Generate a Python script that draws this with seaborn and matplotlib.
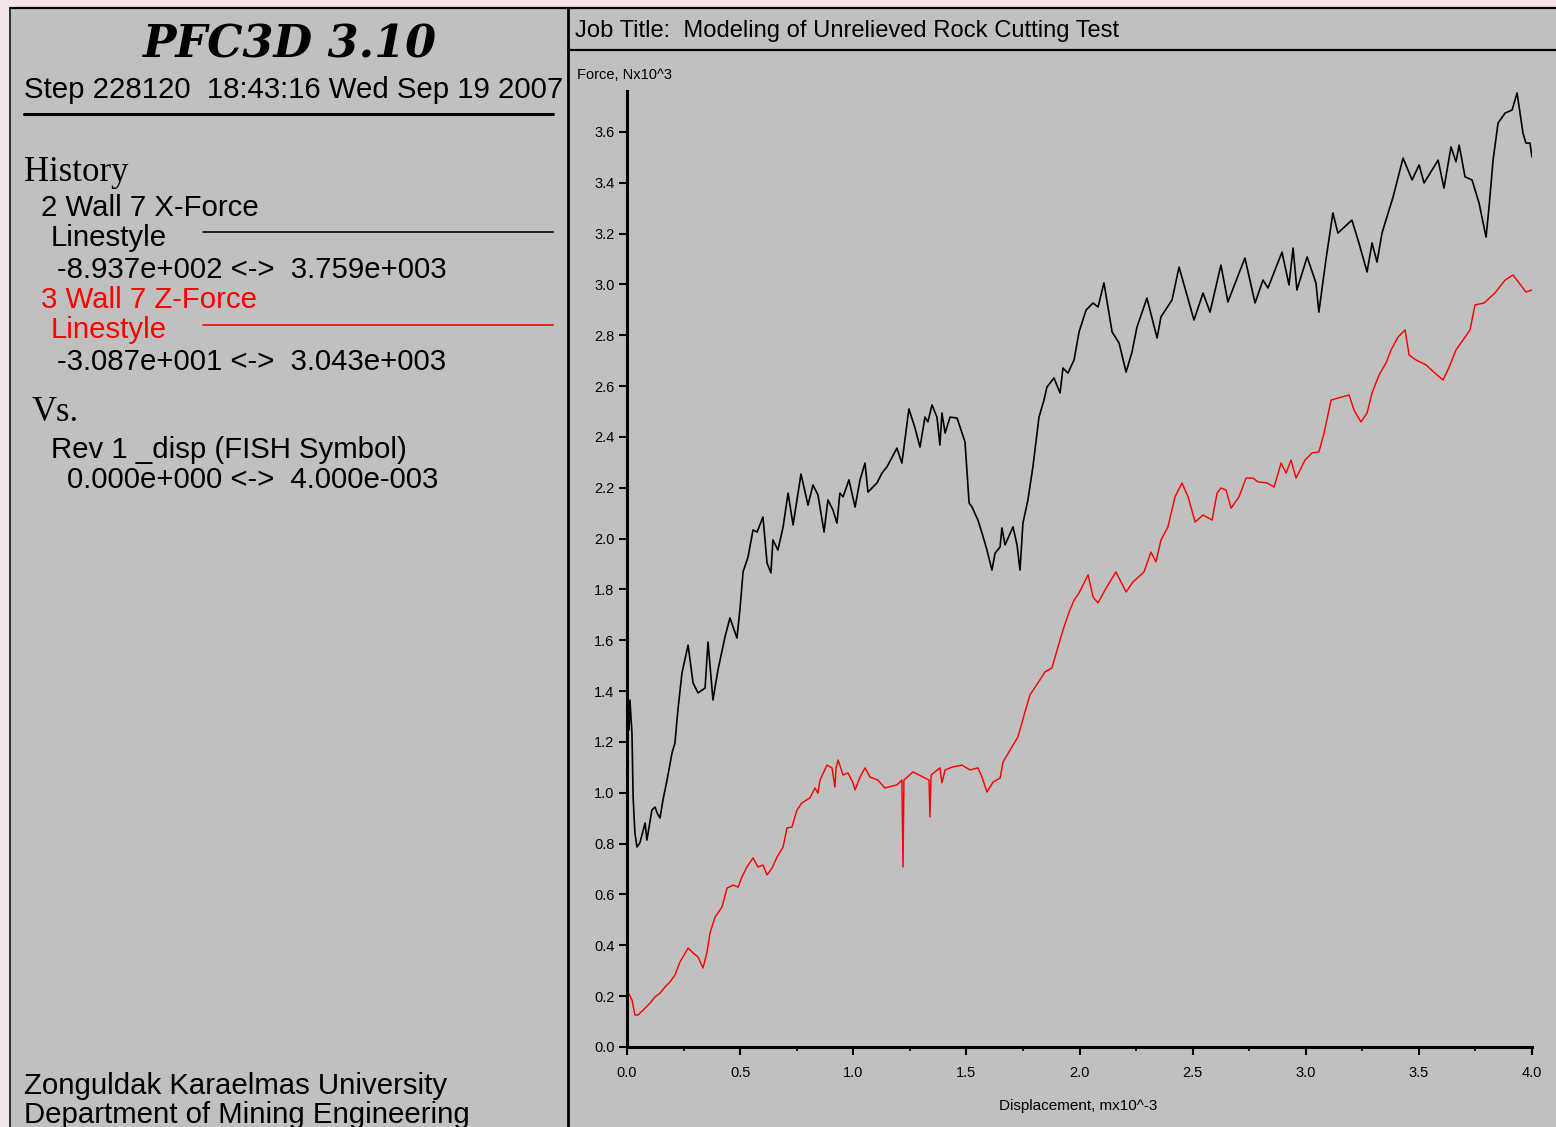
import matplotlib
matplotlib.use("Agg")
import matplotlib.pyplot as plt
import pandas as pd
import seaborn as sns
from matplotlib.patches import Rectangle
from matplotlib.ticker import MultipleLocator, FormatStrFormatter

# History 2: Wall 7 X-force (N x 10^3) against displacement (m x 10^-3)
disp_x = [0.000, 0.004, 0.009, 0.013, 0.022, 0.027, 0.035, 0.044, 0.057, 0.080,
          0.088, 0.110, 0.124, 0.133, 0.146, 0.159, 0.177, 0.199, 0.212, 0.225,
          0.243, 0.270, 0.292, 0.314, 0.345, 0.358, 0.380, 0.402, 0.433, 0.455,
          0.486, 0.499, 0.513, 0.535, 0.557, 0.575, 0.601, 0.619, 0.636, 0.645,
          0.667, 0.690, 0.712, 0.734, 0.769, 0.800, 0.822, 0.844, 0.871, 0.888,
          0.910, 0.928, 0.941, 0.955, 0.981, 1.008, 1.030, 1.052, 1.065, 1.105,
          1.127, 1.149, 1.193, 1.215, 1.246, 1.273, 1.295, 1.317, 1.330, 1.348,
          1.370, 1.383, 1.392, 1.406, 1.428, 1.459, 1.472, 1.494, 1.503, 1.512,
          1.525, 1.551, 1.569, 1.591, 1.613, 1.627, 1.649, 1.657, 1.671, 1.706,
          1.724, 1.737, 1.750, 1.772, 1.794, 1.821, 1.843, 1.856, 1.887, 1.914,
          1.927, 1.949, 1.976, 1.998, 2.029, 2.060, 2.082, 2.108, 2.144, 2.175,
          2.206, 2.232, 2.254, 2.298, 2.343, 2.360, 2.409, 2.440, 2.506, 2.546,
          2.577, 2.625, 2.656, 2.731, 2.776, 2.811, 2.833, 2.895, 2.926, 2.944,
          2.961, 3.006, 3.045, 3.058, 3.089, 3.120, 3.142, 3.204, 3.235, 3.271,
          3.293, 3.315, 3.337, 3.386, 3.430, 3.470, 3.501, 3.523, 3.585, 3.611,
          3.642, 3.664, 3.678, 3.704, 3.735, 3.766, 3.797, 3.810, 3.828, 3.850,
          3.881, 3.912, 3.934, 3.943, 3.960, 3.973, 3.991, 4.000]
x_force = [1.286, 1.385, 1.247, 1.365, 1.235, 0.983, 0.842, 0.787, 0.803, 0.881,
           0.814, 0.932, 0.944, 0.921, 0.901, 0.972, 1.050, 1.157, 1.196, 1.326,
           1.471, 1.581, 1.432, 1.393, 1.412, 1.593, 1.365, 1.483, 1.613, 1.688,
           1.609, 1.719, 1.869, 1.928, 2.034, 2.026, 2.085, 1.904, 1.865, 1.995,
           1.955, 2.046, 2.179, 2.054, 2.254, 2.132, 2.211, 2.172, 2.026, 2.152,
           2.113, 2.061, 2.179, 2.164, 2.231, 2.124, 2.231, 2.297, 2.183, 2.219,
           2.258, 2.282, 2.356, 2.297, 2.510, 2.435, 2.360, 2.478, 2.459, 2.526,
           2.478, 2.368, 2.494, 2.415, 2.478, 2.474, 2.439, 2.380, 2.258, 2.140,
           2.124, 2.073, 2.022, 1.955, 1.876, 1.943, 1.967, 2.042, 1.975, 2.046,
           1.975, 1.876, 2.061, 2.152, 2.282, 2.478, 2.545, 2.596, 2.632, 2.573,
           2.671, 2.651, 2.703, 2.813, 2.899, 2.927, 2.911, 3.006, 2.813, 2.769,
           2.655, 2.734, 2.832, 2.946, 2.789, 2.872, 2.939, 3.068, 2.860, 2.966,
           2.891, 3.076, 2.931, 3.104, 2.927, 3.017, 2.986, 3.127, 2.998, 3.143,
           2.978, 3.108, 3.006, 2.891, 3.096, 3.281, 3.202, 3.253, 3.163, 3.049,
           3.163, 3.088, 3.202, 3.344, 3.497, 3.411, 3.470, 3.399, 3.489, 3.379,
           3.541, 3.482, 3.548, 3.423, 3.411, 3.320, 3.186, 3.304, 3.489, 3.635,
           3.674, 3.686, 3.753, 3.698, 3.596, 3.556, 3.556, 3.501]

# History 3: Wall 7 Z-force (N x 10^3) against displacement (m x 10^-3)
disp_z = [0.000, 0.004, 0.022, 0.035, 0.049, 0.080, 0.102, 0.124, 0.146, 0.168,
          0.190, 0.212, 0.234, 0.270, 0.292, 0.314, 0.336, 0.354, 0.367, 0.389,
          0.420, 0.442, 0.469, 0.491, 0.508, 0.530, 0.557, 0.579, 0.601, 0.619,
          0.641, 0.663, 0.690, 0.707, 0.729, 0.751, 0.773, 0.809, 0.831, 0.844,
          0.853, 0.884, 0.906, 0.919, 0.924, 0.933, 0.955, 0.977, 0.999, 1.008,
          1.030, 1.052, 1.074, 1.109, 1.140, 1.193, 1.215, 1.220, 1.224, 1.264,
          1.308, 1.335, 1.339, 1.344, 1.383, 1.392, 1.406, 1.436, 1.481, 1.516,
          1.551, 1.569, 1.591, 1.618, 1.649, 1.662, 1.693, 1.728, 1.759, 1.781,
          1.825, 1.847, 1.878, 1.901, 1.927, 1.954, 1.976, 1.998, 2.038, 2.060,
          2.082, 2.113, 2.161, 2.206, 2.236, 2.285, 2.316, 2.338, 2.360, 2.391,
          2.422, 2.453, 2.480, 2.511, 2.546, 2.586, 2.608, 2.625, 2.648, 2.670,
          2.705, 2.736, 2.767, 2.789, 2.829, 2.860, 2.891, 2.913, 2.935, 2.957,
          2.997, 3.028, 3.058, 3.081, 3.112, 3.143, 3.192, 3.213, 3.244, 3.271,
          3.293, 3.324, 3.355, 3.377, 3.408, 3.439, 3.457, 3.487, 3.532, 3.571,
          3.607, 3.634, 3.664, 3.695, 3.726, 3.748, 3.788, 3.836, 3.881, 3.916,
          3.943, 3.973, 4.000]
z_force = [0.000, 0.216, 0.185, 0.126, 0.126, 0.153, 0.173, 0.197, 0.212, 0.236,
           0.256, 0.283, 0.334, 0.389, 0.370, 0.354, 0.311, 0.374, 0.448, 0.511,
           0.551, 0.625, 0.637, 0.629, 0.669, 0.708, 0.744, 0.708, 0.716, 0.677,
           0.704, 0.747, 0.787, 0.862, 0.865, 0.932, 0.960, 0.980, 1.019, 0.999,
           1.050, 1.109, 1.098, 1.023, 1.098, 1.129, 1.070, 1.078, 1.039, 1.011,
           1.062, 1.098, 1.062, 1.050, 1.019, 1.031, 1.050, 0.708, 1.050, 1.082,
           1.062, 1.050, 0.905, 1.070, 1.098, 1.039, 1.090, 1.101, 1.109, 1.090,
           1.098, 1.062, 1.003, 1.042, 1.058, 1.121, 1.168, 1.220, 1.318, 1.385,
           1.444, 1.475, 1.491, 1.562, 1.640, 1.711, 1.758, 1.786, 1.857, 1.770,
           1.747, 1.798, 1.869, 1.790, 1.829, 1.869, 1.947, 1.908, 1.994, 2.046,
           2.164, 2.219, 2.164, 2.065, 2.093, 2.073, 2.179, 2.199, 2.191, 2.120,
           2.164, 2.238, 2.238, 2.223, 2.219, 2.203, 2.297, 2.258, 2.309, 2.238,
           2.309, 2.337, 2.341, 2.415, 2.545, 2.553, 2.565, 2.506, 2.459, 2.494,
           2.573, 2.644, 2.691, 2.742, 2.793, 2.821, 2.722, 2.703, 2.683, 2.651,
           2.624, 2.675, 2.742, 2.781, 2.821, 2.919, 2.927, 2.966, 3.017, 3.037,
           3.006, 2.970, 2.978]

x_ticks = [0.0, 0.5, 1.0, 1.5, 2.0, 2.5, 3.0, 3.5, 4.0]
y_ticks = [0.0, 0.2, 0.4, 0.6, 0.8, 1.0, 1.2, 1.4, 1.6, 1.8, 2.0, 2.2, 2.4,
           2.6, 2.8, 3.0, 3.2, 3.4, 3.6]

sns.set_style("ticks")
plt.rcParams['font.family'] = ['Liberation Sans', 'DejaVu Sans']
plt.rcParams['text.color'] = 'black'
plt.rcParams['xtick.color'] = 'black'
plt.rcParams['ytick.color'] = 'black'

W, H = 1556, 1127
PANEL = '#c0c0c0'
RED = '#ff0000'
BODY = 21.2

fig = plt.figure(figsize=(W / 100, H / 100), dpi=100, facecolor='#f2e4e8')

# Panel frame drawn in pixel coordinates
bg = fig.add_axes([0, 0, 1, 1])
bg.set_xlim(0, W)
bg.set_ylim(H, 0)
bg.axis('off')
bg.add_patch(Rectangle((10, 8), W - 10, H - 8, facecolor=PANEL, edgecolor='none'))
bg.plot([10, 10], [8, H], color='#303030', lw=1.4)
bg.plot([10, W], [8, 8], color='black', lw=1.6)
bg.plot([568, 568], [8, H], color='black', lw=2.0)
bg.plot([568, W], [50, 50], color='black', lw=1.6)

# Left information panel
bg.text(289, 58, "PFC3D 3.10", ha='center', va='baseline',
        family=['DejaVu Serif'], weight='bold', style='italic', fontsize=32)
bg.text(24, 98, "Step 228120  18:43:16 Wed Sep 19 2007", ha='left',
        va='baseline', fontsize=BODY)
bg.plot([24, 553], [114, 114], color='black', lw=2.2)
bg.text(24, 181, "History", ha='left', va='baseline',
        family=['Liberation Serif'], fontsize=25)
bg.text(41, 216, "2 Wall 7 X-Force", ha='left', va='baseline', fontsize=BODY)
bg.text(51, 246, "Linestyle", ha='left', va='baseline', fontsize=BODY)
bg.plot([203, 553], [232, 232], color='black', lw=1.2)
bg.text(57, 278, "-8.937e+002 <->  3.759e+003", ha='left', va='baseline',
        fontsize=BODY)
bg.text(41, 308, "3 Wall 7 Z-Force", ha='left', va='baseline', fontsize=BODY,
        color=RED)
bg.text(51, 338, "Linestyle", ha='left', va='baseline', fontsize=BODY,
        color=RED)
bg.plot([203, 553], [325, 325], color=RED, lw=1.2)
bg.text(57, 370, "-3.087e+001 <->  3.043e+003", ha='left', va='baseline',
        fontsize=BODY)
bg.text(32, 421, "Vs.", ha='left', va='baseline',
        family=['Liberation Serif'], fontsize=25)
bg.text(51, 458, "Rev 1 _disp (FISH Symbol)", ha='left', va='baseline',
        fontsize=BODY)
bg.text(67, 488, "0.000e+000 <->  4.000e-003", ha='left', va='baseline',
        fontsize=BODY)
bg.text(24, 1094, "Zonguldak Karaelmas University", ha='left',
        va='baseline', fontsize=BODY)
bg.text(24, 1123, "Department of Mining Engineering", ha='left',
        va='baseline', fontsize=BODY)

# Right panel title and axis captions
bg.text(575, 37, "Job Title:  Modeling of Unrelieved Rock Cutting Test",
        ha='left', va='baseline', fontsize=17.1)
bg.text(577, 79, "Force, Nx10^3", ha='left', va='baseline', fontsize=10.5)
bg.text(1078, 1110, "Displacement, mx10^-3", ha='center', va='baseline',
        fontsize=11)

# History plot
y_top = 3.76
ax = fig.add_axes([627 / W, (H - 1047) / H, 905 / W,
                   (y_top * 254.2) / H])
ax.patch.set_alpha(0)

hist_x = pd.DataFrame({"disp": disp_x, "force": x_force})
hist_z = pd.DataFrame({"disp": disp_z, "force": z_force})
sns.lineplot(data=hist_x, x="disp", y="force", color='black', lw=1.2,
             sort=False, estimator=None, ax=ax)
sns.lineplot(data=hist_z, x="disp", y="force", color=RED, lw=1.05,
             sort=False, estimator=None, ax=ax)

ax.set_xlim(0, 4.0)
ax.set_ylim(0, y_top)
ax.set_xticks(x_ticks)
ax.set_yticks(y_ticks)
ax.xaxis.set_minor_locator(MultipleLocator(0.25))
ax.xaxis.set_major_formatter(FormatStrFormatter('%.1f'))
ax.yaxis.set_major_formatter(FormatStrFormatter('%.1f'))
ax.set_xlabel('')
ax.set_ylabel('')
for side in ('top', 'right'):
    ax.spines[side].set_visible(False)
for side in ('left', 'bottom'):
    ax.spines[side].set_linewidth(2.2)
    ax.spines[side].set_color('black')
ax.tick_params(axis='y', which='major', direction='out', length=6, width=1.5,
               labelsize=10.5, pad=3, colors='black')
ax.tick_params(axis='x', which='major', direction='out', length=6, width=1.5,
               labelsize=10.5, pad=8, colors='black')
ax.tick_params(axis='x', which='minor', direction='out', length=3, width=1.2,
               colors='black')
ax.grid(False)

fig.savefig("out.png", dpi=100, facecolor=fig.get_facecolor())
